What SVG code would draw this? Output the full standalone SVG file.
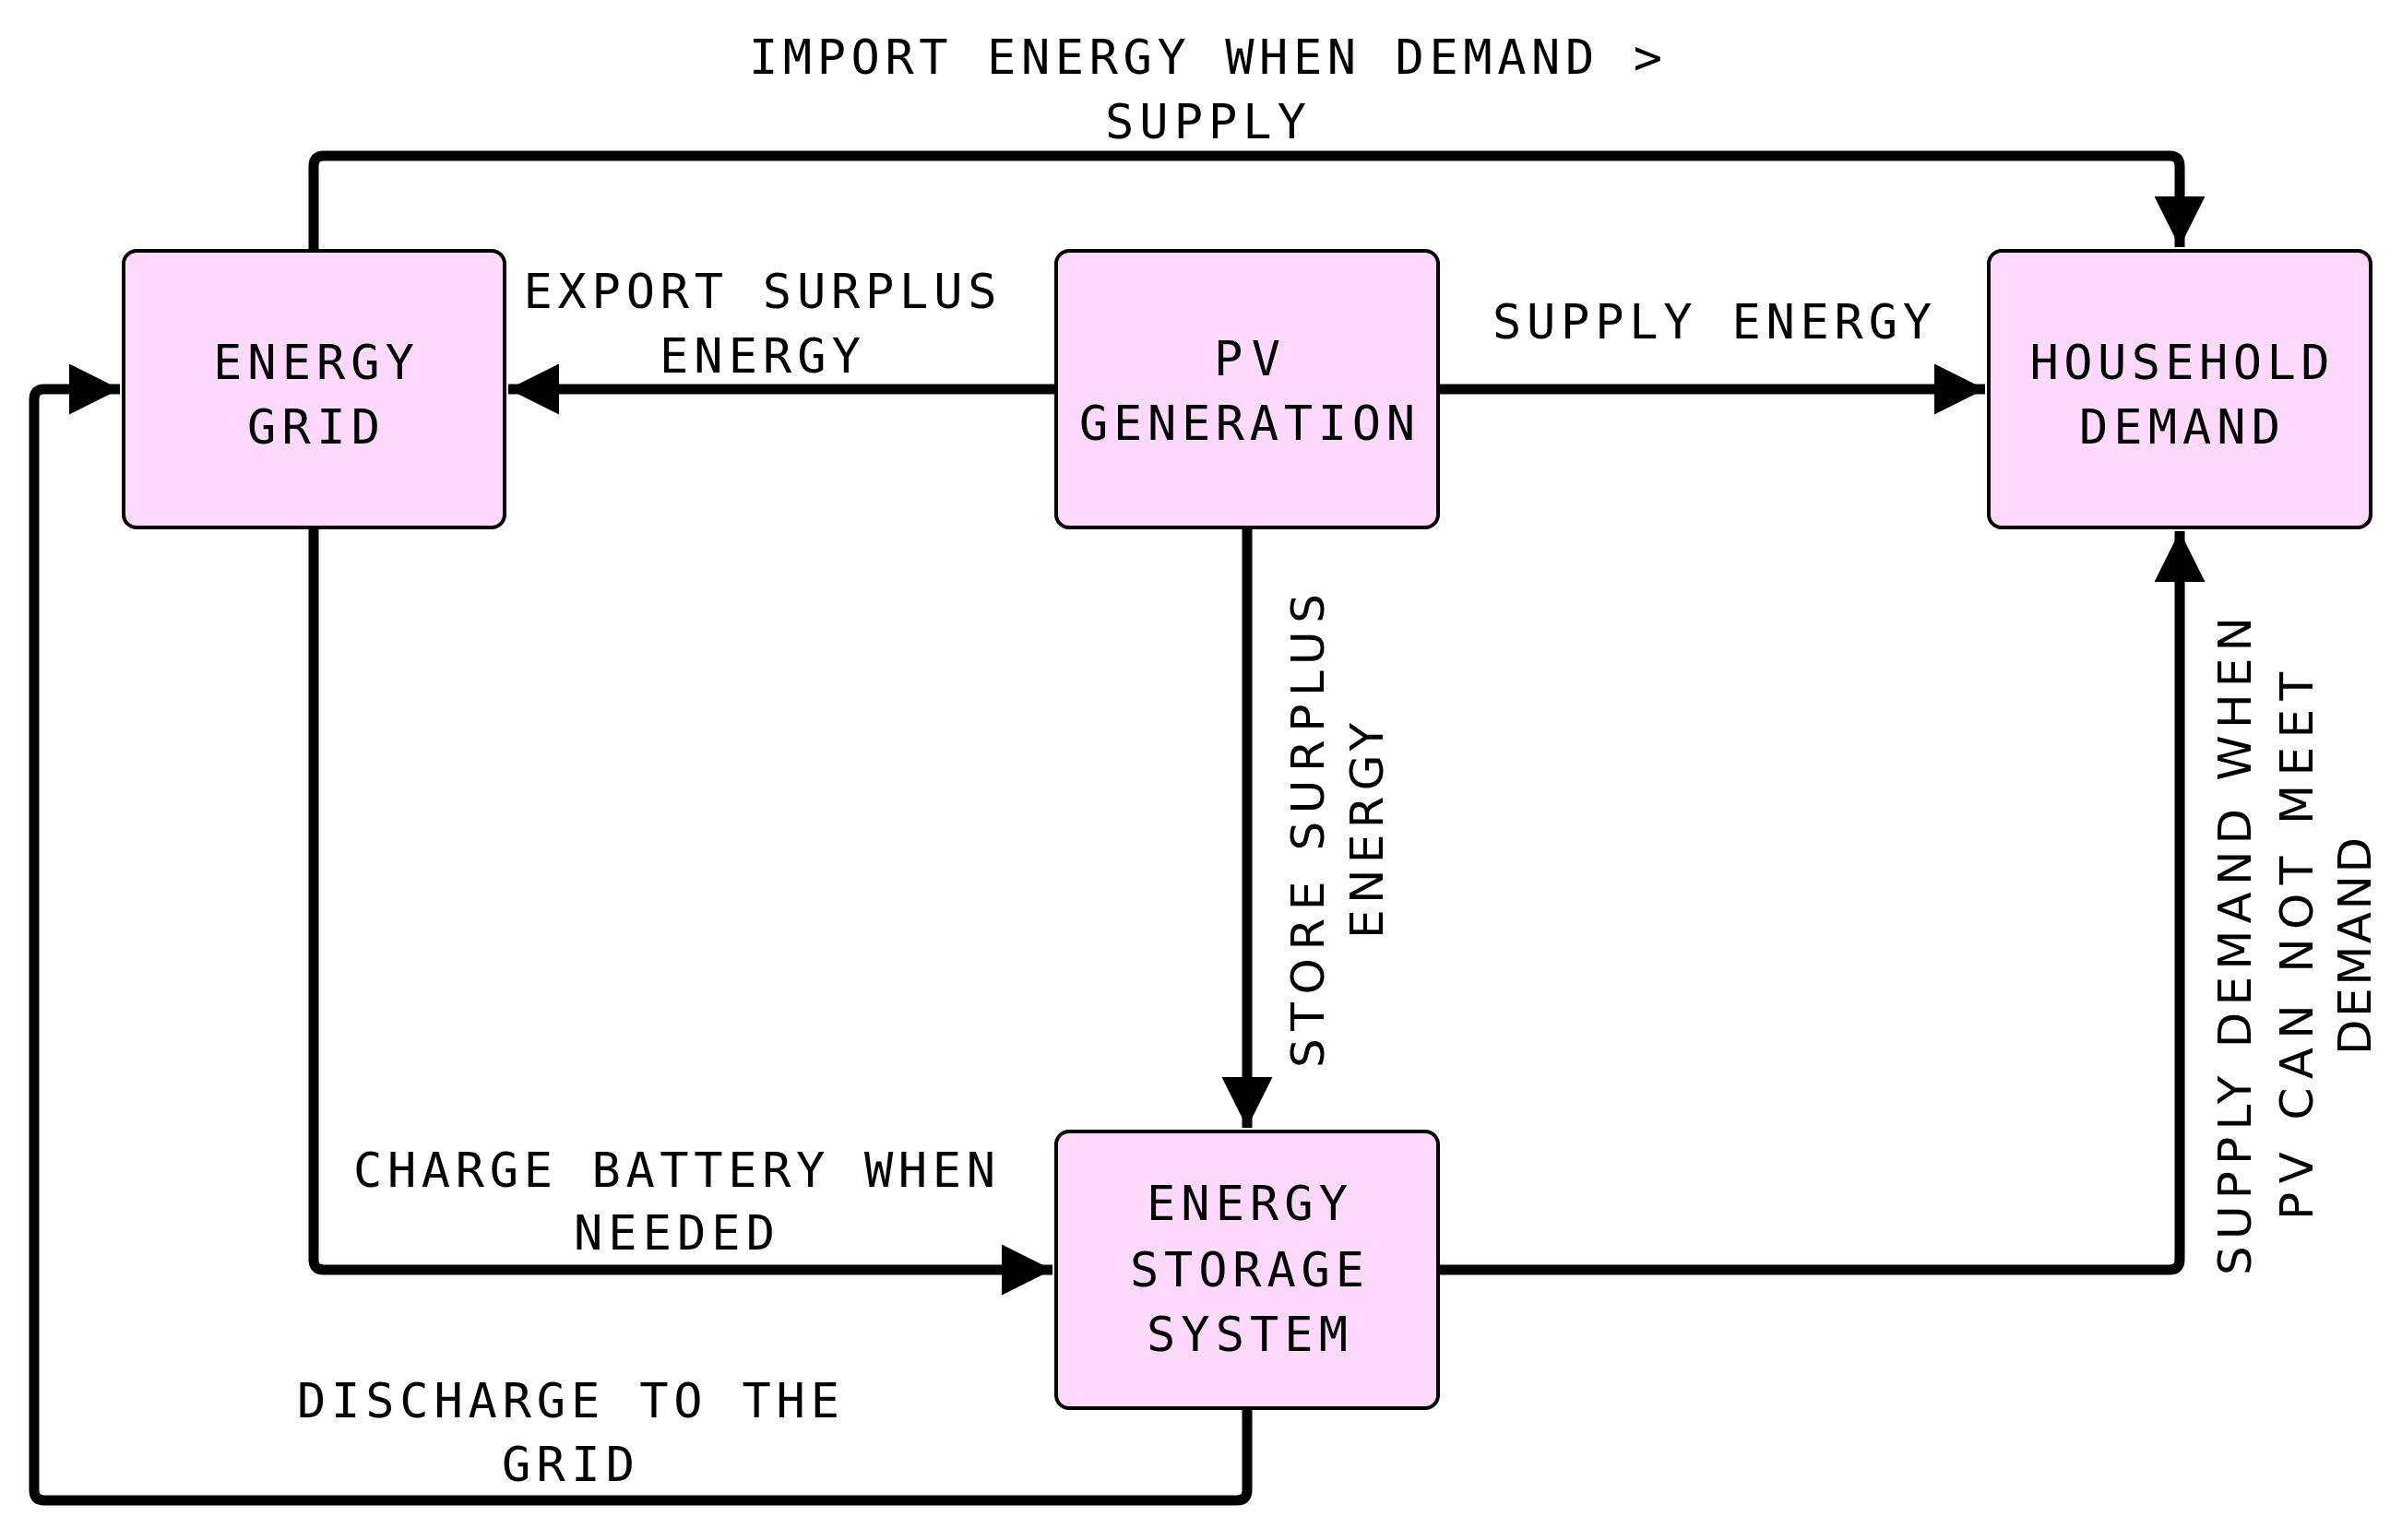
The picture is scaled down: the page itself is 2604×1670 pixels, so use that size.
<svg xmlns="http://www.w3.org/2000/svg" width="2604" height="1670" viewBox="0 0 2604 1670">
<style>
.box{fill:#ffd9fd;stroke:#000;stroke-width:4}
.t{font-family:"DejaVu Sans Mono","Liberation Mono",monospace;font-size:52px;fill:#000;text-anchor:middle}
.v{font-family:"DejaVu Sans","Liberation Sans",sans-serif;font-size:50px;fill:#000;text-anchor:middle}
.c{fill:none;stroke:#000;stroke-width:11;stroke-linejoin:round}
</style>
<defs>
<marker id="ah" viewBox="0 0 10 10" refX="10" refY="5" markerWidth="5.5" markerHeight="5" markerUnits="strokeWidth" orient="auto">
<path d="M0,0 L10,5 L0,10 z" fill="#000"/>
</marker>
</defs>
<rect width="2604" height="1670" fill="#fff"/>
<g id="connectors">
<path class="c" d="M340,272 V180 Q340,169 351,169 H2352 Q2363,169 2363,180 V268" marker-end="url(#ah)"/>
<path class="c" d="M1145,422 H551" marker-end="url(#ah)"/>
<path class="c" d="M1559,422 H2152" marker-end="url(#ah)"/>
<path class="c" d="M1352,572 V1223" marker-end="url(#ah)"/>
<path class="c" d="M340,572 V1366 Q340,1377 351,1377 H1141" marker-end="url(#ah)"/>
<path class="c" d="M1559,1377 H2352 Q2363,1377 2363,1366 V576" marker-end="url(#ah)"/>
<path class="c" d="M1352,1527 V1616 Q1352,1627 1341,1627 H48 Q37,1627 37,1616 V433 Q37,422 48,422 H130" marker-end="url(#ah)"/>
<text class="t" x="1307" y="80" textLength="990">IMPORT ENERGY WHEN DEMAND &gt;</text>
<text class="t" x="1307" y="150" textLength="218">SUPPLY</text>
<text class="t" x="824" y="334" textLength="513">EXPORT SURPLUS</text>
<text class="t" x="824" y="404" textLength="218">ENERGY</text>
<text class="t" x="1856" y="367" textLength="476">SUPPLY ENERGY</text>
<text class="t" x="731" y="1287" textLength="696">CHARGE BATTERY WHEN</text>
<text class="t" x="731" y="1355" textLength="218">NEEDED</text>
<text class="t" x="616" y="1537" textLength="588">DISCHARGE TO THE</text>
<text class="t" x="616" y="1606" textLength="144">GRID</text>
<text class="v" transform="translate(1435,901) rotate(-90)" textLength="514">STORE SURPLUS</text>
<text class="v" transform="translate(1499,901) rotate(-90)" textLength="234">ENERGY</text>
<text class="v" transform="translate(2440,1026) rotate(-90)" textLength="714">SUPPLY DEMAND WHEN</text>
<text class="v" transform="translate(2507,1026) rotate(-90)" textLength="594">PV CAN NOT MEET</text>
<text class="v" transform="translate(2570,1026) rotate(-90)" textLength="236">DEMAND</text>
</g>
<g id="grid">
<rect class="box" x="134" y="272" width="413" height="300" rx="14"/>
<text class="t" x="340" y="411" textLength="218">ENERGY</text>
<text class="t" x="340" y="481" textLength="144">GRID</text>
</g>
<g id="pv">
<rect class="box" x="1145" y="272" width="414" height="300" rx="14"/>
<text class="t" x="1352" y="407" textLength="72">PV</text>
<text class="t" x="1352" y="477" textLength="364">GENERATION</text>
</g>
<g id="household">
<rect class="box" x="2156" y="272" width="414" height="300" rx="14"/>
<text class="t" x="2363" y="411" textLength="325">HOUSEHOLD</text>
<text class="t" x="2363" y="481" textLength="218">DEMAND</text>
</g>
<g id="storage">
<rect class="box" x="1145" y="1227" width="414" height="300" rx="14"/>
<text class="t" x="1352" y="1323" textLength="218">ENERGY</text>
<text class="t" x="1352" y="1395" textLength="254">STORAGE</text>
<text class="t" x="1352" y="1465" textLength="218">SYSTEM</text>
</g>
</svg>
